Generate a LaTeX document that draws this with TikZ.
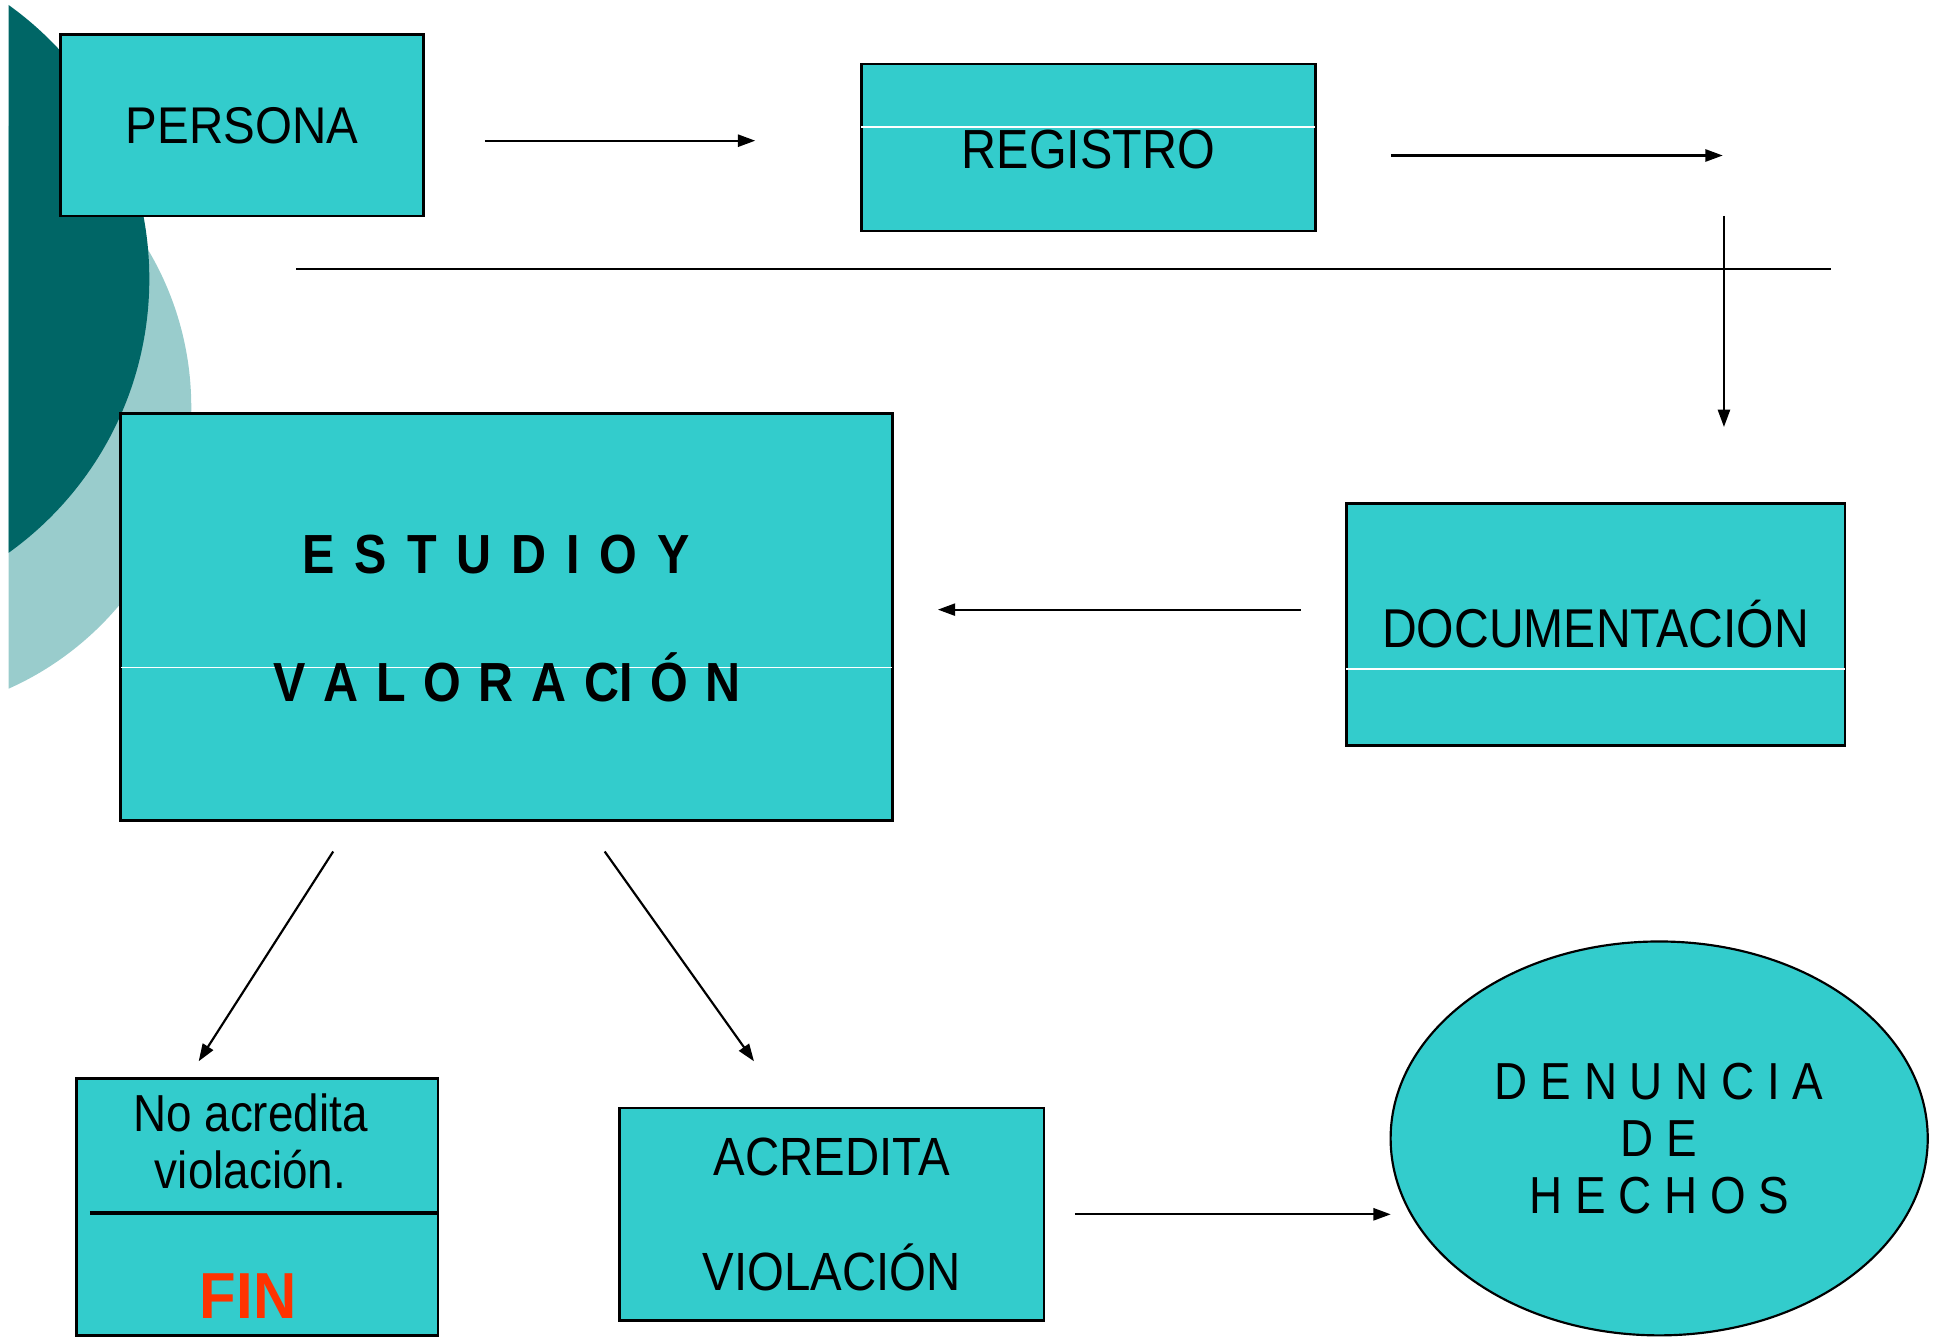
\documentclass[tikz,border=0pt]{standalone}
\usepackage{fontspec}
\setmainfont{Liberation Sans}
\newfontfamily\narrowsans[FakeStretch=0.88]{Liberation Sans}
\newfontfamily\personasans[FakeStretch=0.92]{Liberation Sans}
\usetikzlibrary{shapes, arrows.meta, calc, positioning}
\definecolor{boxcyan}{RGB}{51,204,204}
\definecolor{darkteal}{RGB}{0,102,102}
\definecolor{lightteal}{RGB}{153,204,204}
\definecolor{finred}{RGB}{255,51,0}

\begin{document}
\begin{tikzpicture}[x=0.01cm, y=-0.01cm,
        box/.style={draw, rectangle, fill=boxcyan, line width=0.6pt, inner sep=0pt},
        sepline/.style={white, line width=0.35pt, shorten <=0.35pt, shorten >=0.35pt},
        conn/.style={line width=0.5pt, -{Triangle[length=4pt, width=2.8pt]}},
        lbl/.style={inner sep=0pt, align=center}]
        \useasboundingbox (0,0) rectangle (1568,1087);

        % circles in the corner
        \begin{scope}
            \clip (7,0) rectangle (400,1087);
            \fill[lightteal] (-94.6,330) circle (249.6);
            \fill[darkteal] (-152,226) circle (273);
        \end{scope}

        \node[box, minimum width=2.94cm, minimum height=1.47cm, font=\personasans\fontsize{11.9}{14}\selectfont] (persona) at (196,101.5) {PERSONA};

        \node[box, minimum width=3.68cm, minimum height=1.35cm] (registro) at (882,119.5) {};
        \draw[sepline] ([yshift=-0.52cm]registro.north west) -- ([yshift=-0.52cm]registro.north east);
        \node[lbl, font=\narrowsans\fontsize{12.7}{15}\selectfont] (registrotxt) at (882,121) {REGISTRO};

        \node[box, minimum width=6.25cm, minimum height=3.30cm] (estudio) at (410.5,500) {};
        \draw[sepline] ([yshift=-2.07cm]estudio.north west) -- ([yshift=-2.07cm]estudio.north east);
        \node[lbl, font=\narrowsans\bfseries\fontsize{12.7}{15}\selectfont] (estudiotxt) at (402,449)
            {\spaceskip=0.36em\relax E S T U D I O Y};
        \node[lbl, font=\narrowsans\bfseries\fontsize{12.7}{15}\selectfont] (valortxt) at (411,549)
            {\spaceskip=0.32em\relax V A L O R A CI Ó N};

        \node[box, minimum width=4.04cm, minimum height=1.96cm] (docum) at (1293,506) {};
        \draw[sepline] ([yshift=-1.35cm]docum.north west) -- ([yshift=-1.35cm]docum.north east);
        \node[lbl, font=\narrowsans\fontsize{12.6}{15}\selectfont] (documtxt) at (1293,506) {DOCUMENTACIÓN};

        \node[box, minimum width=2.93cm, minimum height=2.08cm] (noacred) at (208.5,978) {};
        \draw[line width=0.8pt] ([xshift=0.12cm, yshift=-1.10cm]noacred.north west) -- ([yshift=-1.10cm]noacred.north east);
        \node[lbl, font=\narrowsans\fontsize{12}{13.1}\selectfont] (noacredtxt) at (203,925) {No acredita\\violación.};
        \node[lbl, font=\personasans\bfseries\fontsize{15}{18}\selectfont, text=finred] (fin) at (201,1050) {FIN};

        \node[box, minimum width=3.44cm, minimum height=1.72cm, font=\narrowsans\fontsize{12.4}{26.5}\selectfont, align=center] (acred) at (674,984) {ACREDITA\\VIOLACIÓN};

        \node[draw, ellipse, fill=boxcyan, line width=0.5pt, minimum width=4.35cm, minimum height=3.19cm, inner sep=0pt,
              font=\narrowsans\fontsize{12}{13.2}\selectfont, align=center] (denuncia) at (1344.5,922.5) {D E N U N C I A\\D E\\H E C H O S};

        % connectors
        \coordinate (p1) at (393,114);
        \coordinate (p2) at (612,114);
        \coordinate (r1) at (1127,126);
        \coordinate (r2) at (1396,126);
        \coordinate (h1) at (240,218);
        \coordinate (h2) at (1484,218);
        \coordinate (v1) at (1397,175);
        \coordinate (v2) at (1397,346);
        \coordinate (d1) at (1054,494);
        \coordinate (d2) at (760,494);
        \coordinate (e1) at (270,690);
        \coordinate (e2) at (161,860);
        \coordinate (e3) at (490,690);
        \coordinate (e4) at (611,860);
        \coordinate (c1) at (871,984);
        \coordinate (c2) at (1127,984);

        \draw[conn] (p1) -- (p2);
        \draw[conn] (r1) -- (r2);
        \draw[line width=0.6pt] (h1) -- (h2);
        \draw[conn] (v1) -- (v2);
        \draw[conn] (d1) -- (d2);
        \draw[conn] (e1) -- (e2);
        \draw[conn] (e3) -- (e4);
        \draw[conn] (c1) -- (c2);
    \end{tikzpicture}
\end{document}
